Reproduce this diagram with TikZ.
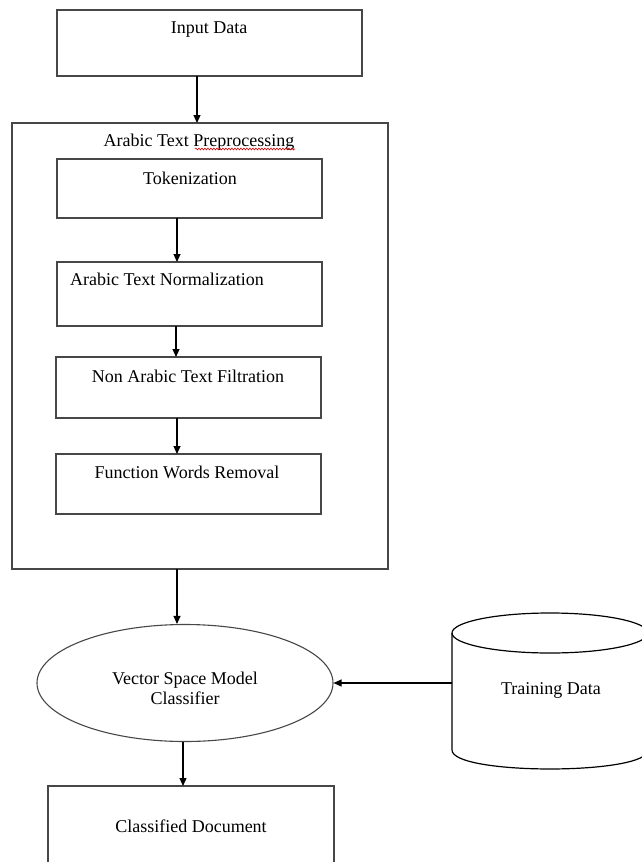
\documentclass[tikz,border=0pt]{standalone}
\usepackage{fontspec}
\setmainfont{Liberation Serif}
\usetikzlibrary{arrows.meta,shapes.geometric,decorations.pathmorphing}
\begin{document}
\begin{tikzpicture}[x=1pt,y=-1pt,
  box/.style={draw=black!72, line width=1.3pt, inner sep=0pt, outer sep=0pt, anchor=north west},
  lbl/.style={anchor=base, inner sep=0pt, font=\fontsize{18}{20}\selectfont},
  arr/.style={draw=black, line width=1.2pt, -{Triangle[length=8pt,width=7pt]}},
  cyl/.style={draw=black, line width=1.2pt},
]
\useasboundingbox (0,0) rectangle (641,862);
\fill[white] (0,0) rectangle (641,862);

% boxes
\node[box, minimum width=305pt, minimum height=66pt]  (inp)   at (57,10)  {};
\node[box, minimum width=376pt, minimum height=446pt] (outer) at (12,123) {};
\node[box, minimum width=265pt, minimum height=59pt]  (tok)   at (57,159) {};
\node[box, minimum width=265pt, minimum height=64pt]  (norm)  at (57,262) {};
\node[box, minimum width=265pt, minimum height=61pt]  (filt)  at (56,357) {};
\node[box, minimum width=265pt, minimum height=60pt]  (func)  at (56,454) {};
\node[box, minimum width=286pt, minimum height=100pt] (cls)   at (48,786) {};

% classifier ellipse
\node[ellipse, draw=black!72, line width=1.1pt, inner sep=0pt,
      minimum width=296pt, minimum height=117pt] (clf) at (185,683) {};

% training data cylinder
\draw[cyl] (550,633) ellipse [x radius=98pt, y radius=20pt];
\draw[cyl] (452,633) -- (452,750)
  .. controls (452,775.3) and (648,775.3) .. (648,750) -- (648,633);
\coordinate (train) at (452,683);

% labels
\node[lbl] (tinp)   at (209,33)  {Input Data};
\node[lbl] (touter) at (199,146) {Arabic Text Preprocessing};
\node[lbl] (ttok)   at (190,184) {Tokenization};
\node[lbl] (tnorm)  at (167,285) {Arabic Text Normalization};
\node[lbl] (tfilt)  at (188,382) {Non Arabic Text Filtration};
\node[lbl] (tfunc)  at (187,478) {Function Words Removal};
\node[lbl] (tclf1)  at (185,684) {Vector Space Model};
\node[lbl] (tclf2)  at (185,704) {Classifier};
\node[lbl] (ttrain) at (551,694) {Training Data};
\node[lbl] (tcls)   at (191,832) {Classified Document};

% spell-check mark under the last word of the title
\draw[red!85!black, line width=0.6pt, decorate,
      decoration={snake, amplitude=0.9pt, segment length=3pt}] (195,149) -- (295,149);

% arrow columns
\coordinate (c1) at (197,0);
\coordinate (c2) at (177,0);
\coordinate (c3) at (176,0);
\coordinate (c4) at (183,0);

% connectors
\draw[arr] (inp.south -| c1)   -- (outer.north -| c1);
\draw[arr] (tok.south -| c2)   -- (norm.north -| c2);
\draw[arr] (norm.south -| c3)  -- (filt.north -| c3);
\draw[arr] (filt.south -| c2)  -- (func.north -| c2);
\draw[arr] (outer.south -| c2) -- ([xshift=-8pt]clf.north);
\draw[arr] ([xshift=-2pt]clf.south) -- (cls.north -| c4);
\draw[arr] (train) -- (clf.east);
\end{tikzpicture}
\end{document}
